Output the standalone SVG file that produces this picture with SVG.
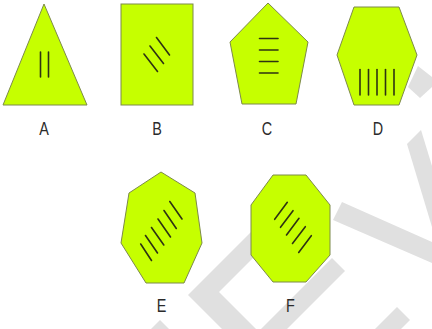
<svg xmlns="http://www.w3.org/2000/svg" width="432" height="329" viewBox="0 0 432 329">
<style>
.wm{fill:#e0e0e0;stroke:none}
.shape{fill:#c6ff00;stroke:#7d8a4a;stroke-width:1}
.mark{stroke:#2e3312;stroke-width:1.6;stroke-linecap:round;fill:none}
.lbl{font-family:"Liberation Sans",Arial,sans-serif;font-size:18px;fill:#2b2b2b;text-anchor:middle}
</style>
<rect width="432" height="329" fill="#ffffff"/>
<g id="watermark">
<polygon class="wm" points="408,87 418,66 432,77 432,87 420,98"/>
<polygon class="wm" points="407,144 421,130 432,166 432,227"/>
<polygon class="wm" points="342,202 333,220 432,263 432,242"/>
<polygon class="wm" points="222,329 188,295 270,213 280,231 219,292 256,329"/>
<polygon class="wm" points="332,258 345,271 287,329 261,329"/>
<polygon class="wm" points="397,307 410,320 401,329 375,329"/>
<polygon class="wm" points="151,329 160,320 169,329"/>
</g>
<g id="node-A">
<polygon class="shape" points="44,4 3,105 87,105"/>
<line class="mark" x1="40.5" y1="52" x2="40.5" y2="77"/>
<line class="mark" x1="48.5" y1="52" x2="48.5" y2="77"/>
<text class="lbl" transform="translate(44,135) scale(0.8,1)">A</text>
</g>
<g id="node-B">
<rect class="shape" x="121" y="4" width="72" height="101"/>
<line class="mark" x1="144" y1="54" x2="157.5" y2="71.5"/>
<line class="mark" x1="150" y1="46" x2="163.5" y2="63.5"/>
<line class="mark" x1="156.5" y1="37.5" x2="169.5" y2="55"/>
<text class="lbl" transform="translate(157,135) scale(0.8,1)">B</text>
</g>
<g id="node-C">
<polygon class="shape" points="268,3 308,42 296,104 242,104 230,42"/>
<line class="mark" x1="259.5" y1="38.5" x2="278" y2="38.5"/>
<line class="mark" x1="259.5" y1="50" x2="278" y2="50"/>
<line class="mark" x1="259.5" y1="61.5" x2="278" y2="61.5"/>
<line class="mark" x1="259.5" y1="73" x2="278" y2="73"/>
<text class="lbl" transform="translate(267,135) scale(0.8,1)">C</text>
</g>
<g id="node-D">
<polygon class="shape" points="354,7 399,7 417,55 399,105 354,105 337,55"/>
<line class="mark" x1="360" y1="69.5" x2="360" y2="95"/>
<line class="mark" x1="368.5" y1="69.5" x2="368.5" y2="95"/>
<line class="mark" x1="377" y1="69.5" x2="377" y2="95"/>
<line class="mark" x1="385.5" y1="69.5" x2="385.5" y2="95"/>
<line class="mark" x1="394" y1="69.5" x2="394" y2="95"/>
<text class="lbl" transform="translate(378,135) scale(0.8,1)">D</text>
</g>
<g id="node-E">
<polygon class="shape" points="161,172 195,193 202,243 184,283 146,283 121,243 129,193"/>
<line class="mark" x1="140.7" y1="244" x2="151.5" y2="260.5"/>
<line class="mark" x1="145.5" y1="235.5" x2="157.5" y2="253"/>
<line class="mark" x1="151.5" y1="227.5" x2="163.8" y2="245"/>
<line class="mark" x1="158" y1="219" x2="170.5" y2="237"/>
<line class="mark" x1="164" y1="210.5" x2="176.3" y2="228.5"/>
<line class="mark" x1="169.8" y1="201.5" x2="182" y2="219"/>
<text class="lbl" transform="translate(161.5,312) scale(0.8,1)">E</text>
</g>
<g id="node-F">
<polygon class="shape" points="273,175 306,175 330,205 330,255 306,282 273,282 251,255 251,205"/>
<line class="mark" x1="274.7" y1="219.3" x2="287.3" y2="202.3"/>
<line class="mark" x1="280.5" y1="227.3" x2="293" y2="210.7"/>
<line class="mark" x1="286.5" y1="235" x2="299" y2="218.3"/>
<line class="mark" x1="292.5" y1="243.5" x2="305.3" y2="226.7"/>
<line class="mark" x1="298.7" y1="252.5" x2="311.3" y2="235.7"/>
<text class="lbl" transform="translate(290.5,312) scale(0.8,1)">F</text>
</g>
</svg>
